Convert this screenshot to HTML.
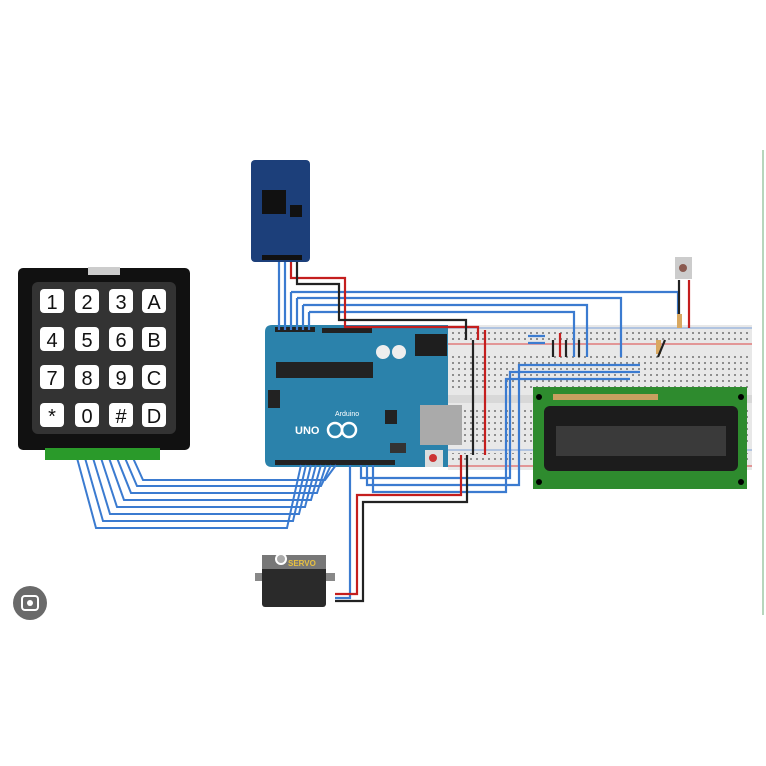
<!DOCTYPE html>
<html><head><meta charset="utf-8"><style>
html,body{margin:0;padding:0;background:#fff;}
svg{display:block}
text{font-family:"Liberation Sans",sans-serif}
</style></head><body>
<svg width="766" height="766" viewBox="0 0 766 766" xmlns="http://www.w3.org/2000/svg">
<defs>
<pattern id="dots" width="6" height="6" patternUnits="userSpaceOnUse"><rect x="2" y="2" width="2" height="2" fill="#777"/></pattern>
</defs>
<rect width="766" height="766" fill="#fff"/>
<line x1="763" y1="150" x2="763" y2="615" stroke="#9fc9a5" stroke-width="1.5"/>

<!-- breadboard -->
<rect x="448" y="325" width="304" height="145" fill="#e8e8e8"/>
<line x1="448" y1="328" x2="752" y2="328" stroke="#7aa0d8" stroke-width="1"/>
<line x1="448" y1="344" x2="752" y2="344" stroke="#d44" stroke-width="1"/>
<line x1="448" y1="450" x2="752" y2="450" stroke="#7aa0d8" stroke-width="1"/>
<line x1="448" y1="466" x2="752" y2="466" stroke="#d44" stroke-width="1"/>
<rect x="448" y="395" width="304" height="8" fill="#d8d8d8"/>
<rect x="452" y="331" width="296" height="10" fill="url(#dots)" opacity="0.8"/>
<rect x="452" y="354" width="296" height="36" fill="url(#dots)" opacity="0.8"/>
<rect x="452" y="406" width="296" height="36" fill="url(#dots)" opacity="0.8"/>
<rect x="452" y="453" width="296" height="10" fill="url(#dots)" opacity="0.8"/>

<!-- LCD -->
<rect x="533" y="387" width="214" height="102" fill="#2e8b2e"/>
<rect x="553" y="394" width="105" height="6" fill="#c8a060"/>
<rect x="544" y="406" width="194" height="65" rx="6" fill="#1c1c1c"/>
<rect x="556" y="426" width="170" height="30" fill="#3a3a3a"/>
<circle cx="539" cy="397" r="3" fill="#000"/><circle cx="741" cy="397" r="3" fill="#000"/>
<circle cx="539" cy="482" r="3" fill="#000"/><circle cx="741" cy="482" r="3" fill="#000"/>

<!-- Arduino -->
<path d="M272 325 H448 V467 H272 Q265 467 265 460 V332 Q265 325 272 325Z" fill="#2b82ab"/>
<rect x="275" y="327" width="40" height="5" fill="#222"/>
<rect x="322" y="328" width="50" height="5" fill="#222"/>
<rect x="276" y="362" width="97" height="16" fill="#222"/>
<rect x="415" y="334" width="32" height="22" fill="#1e1e1e"/>
<circle cx="383" cy="352" r="7" fill="#eee"/><circle cx="399" cy="352" r="7" fill="#eee"/>
<rect x="420" y="405" width="42" height="40" fill="#aaa"/>
<rect x="268" y="390" width="12" height="18" fill="#222"/>
<rect x="385" y="410" width="12" height="14" fill="#222"/>
<rect x="275" y="460" width="120" height="5" fill="#222"/>
<rect x="390" y="443" width="16" height="10" fill="#333"/>
<rect x="425" y="450" width="18" height="17" fill="#ddd"/><circle cx="433" cy="458" r="4" fill="#c33"/>
<text x="295" y="434" font-size="11" fill="#fff" font-weight="bold">UNO</text>
<circle cx="335" cy="430" r="7" fill="none" stroke="#fff" stroke-width="2.5"/>
<circle cx="349" cy="430" r="7" fill="none" stroke="#fff" stroke-width="2.5"/>
<text x="335" y="416" font-size="7" fill="#fff">Arduino</text>

<!-- RTC -->
<rect x="251" y="160" width="59" height="102" rx="4" fill="#1c3f7a"/>
<rect x="262" y="190" width="24" height="24" fill="#111"/>
<rect x="290" y="205" width="12" height="12" fill="#111"/>
<rect x="262" y="255" width="40" height="5" fill="#111"/>

<!-- button + resistors -->
<rect x="675" y="257" width="17" height="22" fill="#ccc"/><circle cx="683" cy="268" r="4" fill="#8a5a50"/>
<rect x="677" y="314" width="5" height="14" fill="#d9a860"/>
<rect x="656" y="340" width="5" height="14" fill="#d9a860"/>

<!-- blue wires -->
<g fill="none" stroke="#3b7bd0" stroke-width="2.2">
<polyline points="279,262 279,330"/>
<polyline points="285,262 285,330"/>
<polyline points="291,292 678,292 678,314"/>
<polyline points="297,298 621,298 621,357"/>
<polyline points="303,305 587,305 587,357"/>
<polyline points="309,312 574,312 574,357"/>
<polyline points="291,292 291,330"/><polyline points="297,298 297,330"/><polyline points="303,305 303,330"/><polyline points="309,312 309,330"/>
<polyline points="640,365 519,365 519,485 367,485 367,465"/>
<polyline points="640,372 510,372 510,478 361,478 361,465"/>
<polyline points="630,379 506,379 506,492 373,492 373,465"/>
<polyline points="350,465 350,598 335,598"/>
<polyline points="528,336 545,336"/><polyline points="528,343 545,343"/>
</g>
<g fill="none" stroke="#3b7bd0" stroke-width="2">
<polyline points="77,458 96,528 287,528 301,465"/>
<polyline points="85,458 103,521 293,521 306,465"/>
<polyline points="93,458 110,514 299,514 311,465"/>
<polyline points="101,458 117,507 305,507 316,465"/>
<polyline points="109,458 124,500 311,500 321,465"/>
<polyline points="117,458 131,493 317,493 326,465"/>
<polyline points="125,458 137,486 321,486 331,465"/>
<polyline points="133,458 143,480 325,480 336,465"/>
</g>

<!-- red/black wires -->
<g fill="none" stroke-width="2.2">
<polyline stroke="#c41e1e" points="291,262 291,278 345,278 345,327 478,327 478,340"/>
<polyline stroke="#222" points="297,262 297,284 339,284 339,320 466,320 466,340"/>
<polyline stroke="#222" points="473,340 473,455"/>
<polyline stroke="#c41e1e" points="485,330 485,455"/>
<polyline stroke="#c41e1e" points="689,280 689,328"/>
<polyline stroke="#222" points="679,280 679,314"/>
<polyline stroke="#c41e1e" points="560,333 560,357"/>
<polyline stroke="#222" points="553,340 553,357"/><polyline stroke="#222" points="566,340 566,357"/><polyline stroke="#222" points="579,340 579,357"/>
<polyline stroke="#222" points="665,340 658,357"/>
<polyline stroke="#c41e1e" points="461,455 461,495 357,495 357,594 335,594"/>
<polyline stroke="#222" points="467,455 467,502 363,502 363,601 335,601"/>
</g>

<!-- keypad -->
<rect x="18" y="268" width="172" height="182" rx="5" fill="#111"/>
<rect x="88" y="267" width="32" height="8" fill="#ccc"/>
<rect x="32" y="282" width="144" height="152" rx="6" fill="#333"/>
<rect x="45" y="448" width="115" height="12" fill="#2a9a2a"/>
<g fill="#fff">
<rect x="40" y="289" width="24" height="24" rx="4"/><rect x="75" y="289" width="24" height="24" rx="4"/><rect x="109" y="289" width="24" height="24" rx="4"/><rect x="142" y="289" width="24" height="24" rx="4"/>
<rect x="40" y="327" width="24" height="24" rx="4"/><rect x="75" y="327" width="24" height="24" rx="4"/><rect x="109" y="327" width="24" height="24" rx="4"/><rect x="142" y="327" width="24" height="24" rx="4"/>
<rect x="40" y="365" width="24" height="24" rx="4"/><rect x="75" y="365" width="24" height="24" rx="4"/><rect x="109" y="365" width="24" height="24" rx="4"/><rect x="142" y="365" width="24" height="24" rx="4"/>
<rect x="40" y="403" width="24" height="24" rx="4"/><rect x="75" y="403" width="24" height="24" rx="4"/><rect x="109" y="403" width="24" height="24" rx="4"/><rect x="142" y="403" width="24" height="24" rx="4"/>
</g>
<g font-size="20" fill="#111" text-anchor="middle">
<text x="52" y="309">1</text><text x="87" y="309">2</text><text x="121" y="309">3</text><text x="154" y="309">A</text>
<text x="52" y="347">4</text><text x="87" y="347">5</text><text x="121" y="347">6</text><text x="154" y="347">B</text>
<text x="52" y="385">7</text><text x="87" y="385">8</text><text x="121" y="385">9</text><text x="154" y="385">C</text>
<text x="52" y="423">*</text><text x="87" y="423">0</text><text x="121" y="423">#</text><text x="154" y="423">D</text>
</g>

<!-- servo -->
<rect x="255" y="573" width="80" height="8" fill="#888"/>
<rect x="262" y="555" width="64" height="52" rx="3" fill="#2a2a2a"/>
<rect x="262" y="555" width="64" height="14" fill="#777"/>
<circle cx="281" cy="559" r="6" fill="#fff"/><circle cx="281" cy="559" r="4" fill="#aaa"/>
<text x="288" y="566" font-size="8" fill="#e8c040" font-weight="bold">SERVO</text>

<!-- lens icon -->
<circle cx="30" cy="603" r="17" fill="#6a6a6a"/>
<rect x="22" y="596" width="16" height="14" rx="3" fill="none" stroke="#fff" stroke-width="2"/>
<circle cx="30" cy="603" r="3" fill="#fff"/>
</svg>
</body></html>
